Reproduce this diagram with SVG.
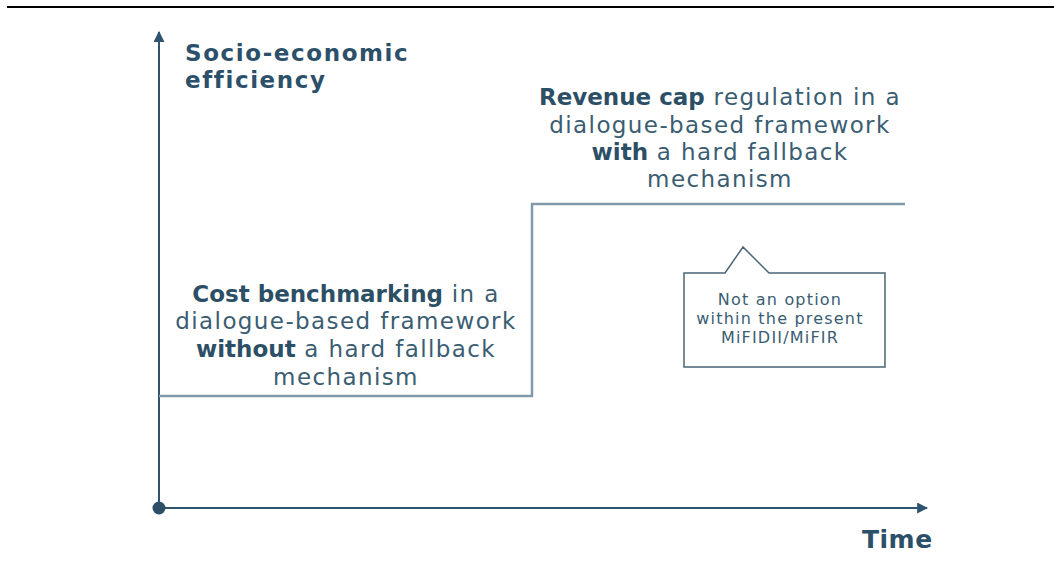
<svg xmlns="http://www.w3.org/2000/svg" width="1054" height="573" viewBox="0 0 1054 573">
<defs>
<style>
.t{font-family:"DejaVu Sans","Liberation Sans",sans-serif;fill:#3a5d72;text-anchor:middle;font-size:23px;letter-spacing:1.4px}
.c{font-size:16px;letter-spacing:1.2px}
.b{font-weight:bold;fill:#2c4f66;letter-spacing:0}
.h{font-family:"DejaVu Sans","Liberation Sans",sans-serif;font-weight:bold;fill:#2c5069;font-size:23px;letter-spacing:1.6px}
.axis{stroke:#2f5470;stroke-width:2;fill:none}
.step{stroke:#7f9aab;stroke-width:2.5;fill:none}
</style>
<marker id="arr" viewBox="0 0 10 10" refX="9" refY="5" markerWidth="11" markerHeight="11" markerUnits="userSpaceOnUse" orient="auto">
<path d="M0,0 L10,5 L0,10 z" fill="#2f5470"/>
</marker>
</defs>
<rect width="1054" height="573" fill="#fff"/>
<line x1="7" y1="7" x2="1054" y2="7" stroke="#000" stroke-width="2"/>
<g id="connectors">
<line class="axis" x1="159" y1="508" x2="159" y2="32" marker-end="url(#arr)"/>
<line class="axis" x1="159" y1="508" x2="927" y2="508" marker-end="url(#arr)"/>
<circle cx="159" cy="508" r="6.5" fill="#2c4f66"/>
<polyline class="step" points="159,396 532,396 532,204 905,204"/>
</g>
<g id="yLabel">
<text class="h" x="185" y="61">Socio-economic</text>
<text class="h" x="185" y="88">efficiency</text>
</g>
<g id="xLabel">
<text class="h" x="862" y="548" style="font-size:25px;letter-spacing:0.5px">Time</text>
</g>
<g id="upper">
<text class="t" x="720" y="105"><tspan class="b">Revenue cap</tspan> regulation in a</text>
<text class="t" x="720" y="133">dialogue-based framework</text>
<text class="t" x="720" y="160"><tspan class="b">with</tspan> a hard fallback</text>
<text class="t" x="720" y="187">mechanism</text>
</g>
<g id="lower">
<text class="t" x="346" y="302"><tspan class="b">Cost benchmarking</tspan> in a</text>
<text class="t" x="346" y="329">dialogue-based framework</text>
<text class="t" x="346" y="357"><tspan class="b">without</tspan> a hard fallback</text>
<text class="t" x="346" y="385">mechanism</text>
</g>
<g id="callout">
<polygon points="684,273 725,273 743,247 769,273 885,273 885,367 684,367" fill="#fff" stroke="#4a6577" stroke-width="1.5"/>
<text class="t c" x="780" y="305">Not an option</text>
<text class="t c" x="780" y="324">within the present</text>
<text class="t c" x="780" y="343">MiFIDII/MiFIR</text>
</g>
</svg>
